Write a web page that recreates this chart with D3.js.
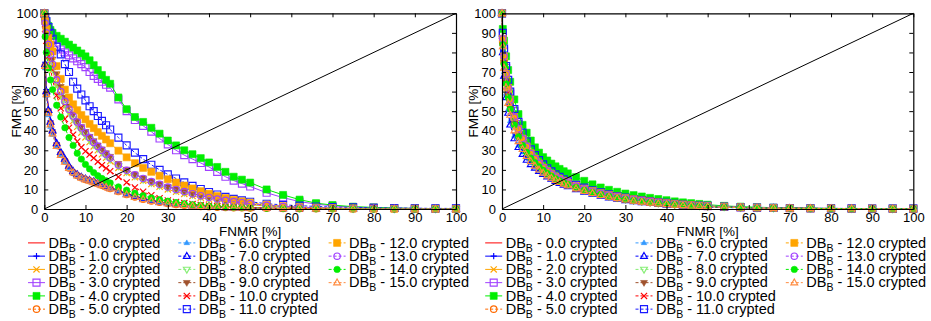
<!DOCTYPE html>
<html>
<head>
<meta charset="utf-8">
<script src="https://cdn.jsdelivr.net/npm/d3@7"></script>
<style>
  body { margin: 0; background: #fff; }
  svg { display: block; font-family: "Liberation Sans", Arial, Helvetica, sans-serif; }
</style>
</head>
<body>
<svg id="chart" width="931" height="321"></svg>
<script>
// FNMR sample points (%) shared by every curve
const fnmrGrid = [0, 0.2, 0.5, 1, 1.5, 2, 3, 4,
  5, 6, 7, 8, 9, 10, 11, 12,
  13, 14, 15, 16, 18, 20, 22, 24,
  26, 28, 30, 32, 34, 36, 38, 40,
  42, 44, 46, 48, 50, 54, 58, 62,
  66, 70, 75, 80, 85, 90, 95, 100];

const cryptLevels = ['0.0', '1.0', '2.0', '3.0', '4.0', '5.0', '6.0', '7.0',
  '8.0', '9.0', '10.0', '11.0', '12.0', '13.0', '14.0', '15.0'];

const tickValues = [0, 10, 20, 30, 40, 50, 60, 70, 80, 90, 100];

// left panel, FMR (%) at each FNMR grid point
const left00 = [100, 76, 62, 52, 46, 41, 34.5, 29.5, 26, 22.5, 20, 18.2, 16.9, 15.9, 15.1, 14.4, 13.5, 12.7, 11.9, 11.1, 9.5, 8, 6.6, 5.5, 4.5, 3.7, 3, 2.5, 2.1, 1.8, 1.5, 1.3, 1.1, 0.9, 0.8, 0.7, 0.6, 0.4, 0.3, 0.2, 0.15, 0.1, 0.05, 0, 0, 0, 0, 0];
const left01 = [100, 75, 61, 51, 45, 40.5, 34, 29, 25.5, 22, 19.5, 17.8, 16.5, 15.6, 14.9, 14.2, 13.4, 12.6, 11.8, 11, 9.3, 7.8, 6.5, 5.4, 4.4, 3.6, 3, 2.5, 2.1, 1.7, 1.4, 1.2, 1, 0.8, 0.7, 0.6, 0.5, 0.35, 0.25, 0.2, 0.15, 0.1, 0.05, 0, 0, 0, 0, 0];
const left02 = [100, 94, 89, 82, 76, 71, 63, 57, 52.5, 48.5, 45, 42, 39, 36.6, 34.2, 32, 30, 28, 26.2, 24.4, 21, 18.4, 16.2, 14.4, 12.8, 11.4, 10, 8.8, 7.7, 6.7, 5.8, 5, 4.3, 3.7, 3.1, 2.6, 2.2, 1.5, 1, 0.7, 0.5, 0.3, 0.2, 0.1, 0.1, 0.05, 0, 0];
const left03 = [100, 97, 94, 90, 87, 85, 83, 81.5, 80, 78.5, 77, 75.5, 74, 72.5, 70, 68, 66.5, 65, 63.5, 62, 56, 50, 45.5, 42.5, 39.5, 36, 33, 30, 27.5, 25.5, 23.5, 21.5, 19, 16.5, 14.5, 13, 11.5, 8.3, 5.8, 3.8, 2.5, 1.6, 1, 0.7, 0.5, 0.3, 0.2, 0.2];
const left04 = [100, 98, 96, 93.5, 91.5, 90, 88.5, 87, 85.5, 84, 82.5, 81, 79.5, 78, 76, 73.5, 71, 68.5, 66, 64, 57, 51, 47, 44.5, 41.5, 38.5, 35, 32.5, 30, 28, 26, 23.8, 21.5, 19, 16.5, 15, 13.5, 10, 7.2, 4.8, 3, 2, 1.2, 0.8, 0.5, 0.3, 0.2, 0.2];
const left05 = [100, 73, 59, 49.5, 43.5, 39, 32.5, 28, 24.5, 21, 18.7, 17.1, 16, 15.1, 14.4, 13.7, 12.9, 12.1, 11.3, 10.5, 8.9, 7.4, 6.1, 5, 4.1, 3.4, 2.8, 2.3, 1.9, 1.6, 1.3, 1.1, 0.9, 0.8, 0.7, 0.6, 0.5, 0.35, 0.25, 0.2, 0.15, 0.1, 0.05, 0, 0, 0, 0, 0];
const left06 = [100, 72, 58, 48, 42, 38, 32, 27.5, 24, 20.5, 18.3, 16.8, 15.7, 14.9, 14.2, 13.5, 12.7, 11.9, 11.1, 10.3, 8.7, 7.2, 5.9, 4.8, 3.9, 3.2, 2.6, 2.2, 1.8, 1.5, 1.3, 1.1, 0.9, 0.8, 0.7, 0.6, 0.5, 0.35, 0.25, 0.2, 0.15, 0.1, 0.05, 0, 0, 0, 0, 0];
const left07 = [100, 74, 60, 50.5, 44.5, 40, 33.5, 29, 25.5, 22, 19.3, 17.6, 16.3, 15.4, 14.7, 14, 13.2, 12.4, 11.6, 10.8, 9.2, 7.7, 6.4, 5.3, 4.3, 3.5, 2.9, 2.4, 2, 1.7, 1.4, 1.2, 1, 0.8, 0.7, 0.6, 0.5, 0.35, 0.25, 0.2, 0.15, 0.1, 0.05, 0, 0, 0, 0, 0];
const left08 = [100, 94, 88, 82, 76.5, 71.5, 64, 58, 53.5, 49.5, 46, 43, 40, 37.6, 35.2, 33, 31, 29, 27.2, 25.4, 22, 19.2, 17, 15.1, 13.5, 12.1, 10.8, 9.6, 8.5, 7.5, 6.5, 5.6, 4.8, 4.1, 3.5, 3, 2.5, 1.7, 1.2, 0.8, 0.6, 0.4, 0.25, 0.15, 0.1, 0.05, 0, 0];
const left09 = [100, 95, 91, 86, 81, 76.5, 69, 62.5, 57, 52.5, 48.5, 45, 42, 39.5, 37, 34.8, 32.6, 30.6, 28.6, 26.8, 23.2, 20.2, 17.8, 15.8, 14.2, 12.8, 11.4, 10.2, 9, 7.9, 6.9, 6, 5.2, 4.5, 3.8, 3.2, 2.7, 1.9, 1.3, 0.9, 0.6, 0.4, 0.3, 0.2, 0.1, 0.05, 0, 0];
const left10 = [100, 92, 86, 78, 72, 66, 58, 51.5, 46, 41.5, 38, 34.5, 31.5, 29.5, 27.8, 26, 24.2, 22.4, 20.8, 19.3, 16.4, 13.6, 11, 8.8, 7, 5.5, 4.4, 3.6, 3, 2.5, 2.1, 1.7, 1.4, 1.2, 1, 0.8, 0.7, 0.5, 0.35, 0.25, 0.15, 0.1, 0.05, 0, 0, 0, 0, 0];
const left11 = [100, 98, 96, 93, 90, 87, 83, 79, 74, 70, 65, 61.5, 58.5, 55.5, 52.5, 50, 47.5, 45, 42.8, 40.6, 36.5, 32.5, 28.8, 25.5, 22.6, 20, 17.7, 15.6, 13.6, 11.8, 10.2, 8.7, 7.4, 6.2, 5.2, 4.4, 3.7, 2.7, 2.1, 1.7, 1.3, 1, 0.8, 0.6, 0.5, 0.4, 0.3, 0.3];
const left12 = [100, 96, 92, 87.5, 84, 80.5, 73, 66.5, 61, 57, 53.5, 50.5, 48, 45.8, 43.5, 41.3, 39.3, 37.4, 35.5, 33.6, 29.8, 26.4, 23.4, 21, 19, 17, 15.2, 13.5, 12, 10.5, 9.1, 7.8, 6.6, 5.6, 4.7, 3.9, 3.2, 2.2, 1.5, 1, 0.7, 0.5, 0.3, 0.2, 0.1, 0.1, 0.05, 0];
const left13 = [100, 95, 90, 84, 79, 74, 66, 60, 55, 51, 47.5, 44.5, 41.5, 39, 36.5, 34, 32, 30, 28, 26, 22.5, 19.8, 17.5, 15.6, 14, 12.6, 11.2, 10, 8.9, 7.8, 6.8, 5.9, 5.1, 4.4, 3.8, 3.2, 2.7, 1.9, 1.3, 0.9, 0.6, 0.4, 0.3, 0.2, 0.1, 0.1, 0.05, 0];
const left14 = [100, 88, 80, 72, 66, 61, 53, 47, 41.5, 36.5, 32.5, 28.5, 25.5, 22.8, 20.5, 18.6, 17, 15.6, 14.4, 13.3, 11.3, 9.6, 8.1, 6.8, 5.7, 4.8, 4, 3.3, 2.7, 2.2, 1.8, 1.5, 1.2, 1, 0.8, 0.7, 0.6, 0.4, 0.3, 0.2, 0.15, 0.1, 0.05, 0, 0, 0, 0, 0];
const left15 = [100, 73, 58.5, 49, 43, 38.5, 32, 27.5, 24, 20.8, 18.6, 17, 15.9, 15, 14.3, 13.6, 12.8, 12, 11.2, 10.4, 8.8, 7.3, 6, 4.9, 4, 3.3, 2.7, 2.2, 1.8, 1.5, 1.3, 1.1, 0.9, 0.8, 0.7, 0.6, 0.5, 0.35, 0.25, 0.2, 0.15, 0.1, 0.05, 0, 0, 0, 0, 0];

// right panel, FMR (%) at each FNMR grid point
const right00 = [100, 85, 76, 67, 60, 54, 45, 39, 34.3, 30.4, 27, 24.6, 22.2, 20.2, 18.6, 17.1, 15.8, 14.6, 13.6, 12.7, 11.1, 9.7, 8.5, 7.5, 6.6, 5.8, 5.1, 4.5, 4, 3.5, 3.1, 2.7, 2.4, 2.1, 1.8, 1.6, 1.4, 1.1, 0.8, 0.6, 0.5, 0.4, 0.3, 0.2, 0.2, 0.1, 0.1, 0.1];
const right01 = [100, 88, 79, 70, 63, 57, 48, 41.5, 36.5, 32.3, 28.7, 26, 23.5, 21.4, 19.6, 18, 16.6, 15.4, 14.3, 13.4, 11.7, 10.2, 9, 7.9, 7, 6.2, 5.5, 4.8, 4.2, 3.7, 3.3, 2.9, 2.5, 2.2, 1.9, 1.6, 1.4, 1.1, 0.8, 0.6, 0.5, 0.4, 0.3, 0.2, 0.2, 0.1, 0.1, 0.1];
const right02 = [100, 86, 77, 68, 61, 55.5, 46.5, 40.5, 35.5, 31.5, 28, 25.4, 23, 21, 19.2, 17.7, 16.4, 15.2, 14.1, 13.2, 11.6, 10.1, 8.9, 7.8, 6.9, 6.1, 5.4, 4.7, 4.2, 3.7, 3.2, 2.8, 2.5, 2.2, 1.9, 1.6, 1.4, 1.1, 0.8, 0.6, 0.5, 0.4, 0.3, 0.2, 0.2, 0.1, 0.1, 0.1];
const right03 = [100, 89, 81, 72, 65, 59, 50, 43.5, 38, 33.5, 29.8, 27, 24.5, 22.3, 20.4, 18.8, 17.3, 16, 14.9, 13.9, 12.2, 10.7, 9.4, 8.3, 7.3, 6.4, 5.6, 4.9, 4.3, 3.8, 3.4, 3, 2.6, 2.2, 1.9, 1.7, 1.5, 1.1, 0.8, 0.6, 0.5, 0.4, 0.3, 0.3, 0.2, 0.2, 0.2, 0.2];
const right04 = [100, 92, 86, 78, 71, 65, 56, 48.5, 43, 39, 35, 31.5, 28.8, 26.5, 24.8, 23.2, 21.8, 20.5, 19.3, 18.2, 16.3, 14.4, 12.6, 11, 9.8, 8.8, 7.9, 7.1, 6.4, 5.7, 5.1, 4.5, 3.9, 3.4, 3, 2.6, 2.2, 1.6, 1.2, 0.9, 0.7, 0.5, 0.4, 0.3, 0.2, 0.2, 0.2, 0.2];
const right05 = [100, 85, 75, 66, 59, 53, 44.5, 38.5, 34, 30.2, 27, 24.4, 22, 20, 18.4, 17, 15.7, 14.6, 13.6, 12.7, 11.1, 9.7, 8.5, 7.5, 6.6, 5.8, 5.1, 4.5, 4, 3.5, 3.1, 2.7, 2.3, 2, 1.8, 1.5, 1.3, 1, 0.8, 0.6, 0.5, 0.4, 0.3, 0.2, 0.2, 0.1, 0.1, 0.1];
const right06 = [100, 81, 70, 59, 51, 45, 37.5, 32.5, 29, 26, 23.5, 21.5, 19.7, 18.2, 16.8, 15.6, 14.5, 13.5, 12.6, 11.8, 10.3, 9, 7.9, 6.9, 6, 5.3, 4.6, 4, 3.5, 3, 2.6, 2.3, 2, 1.7, 1.5, 1.3, 1.1, 0.8, 0.6, 0.5, 0.4, 0.3, 0.2, 0.2, 0.1, 0.1, 0.1, 0.1];
const right07 = [100, 80, 68, 57, 49, 43, 36, 31.5, 28, 25, 22.8, 21, 19.3, 17.8, 16.5, 15.3, 14.2, 13.2, 12.3, 11.5, 10, 8.7, 7.6, 6.6, 5.8, 5.1, 4.4, 3.8, 3.3, 2.9, 2.5, 2.2, 1.9, 1.6, 1.4, 1.2, 1, 0.8, 0.6, 0.5, 0.4, 0.3, 0.2, 0.2, 0.1, 0.1, 0.1, 0.1];
const right08 = [100, 86, 76, 67, 60, 54, 45.5, 39.5, 34.8, 30.8, 27.3, 24.8, 22.4, 20.4, 18.7, 17.2, 15.9, 14.7, 13.7, 12.8, 11.2, 9.8, 8.6, 7.6, 6.7, 5.9, 5.2, 4.6, 4, 3.5, 3.1, 2.7, 2.4, 2.1, 1.8, 1.6, 1.4, 1.1, 0.8, 0.6, 0.5, 0.4, 0.3, 0.2, 0.2, 0.1, 0.1, 0.1];
const right09 = [100, 84, 75, 65, 58, 52, 43.5, 37.5, 33, 29.3, 26.2, 23.8, 21.6, 19.7, 18.1, 16.7, 15.4, 14.3, 13.3, 12.4, 10.8, 9.4, 8.2, 7.2, 6.3, 5.5, 4.8, 4.2, 3.7, 3.2, 2.8, 2.5, 2.2, 1.9, 1.6, 1.4, 1.2, 0.9, 0.7, 0.5, 0.4, 0.3, 0.3, 0.2, 0.2, 0.1, 0.1, 0.1];
const right10 = [100, 85, 76, 66.5, 59.5, 53.5, 45, 39, 34.2, 30.4, 27, 24.5, 22.1, 20.1, 18.5, 17, 15.7, 14.5, 13.5, 12.6, 11, 9.6, 8.4, 7.4, 6.5, 5.7, 5, 4.4, 3.9, 3.4, 3, 2.6, 2.3, 2, 1.7, 1.5, 1.3, 1, 0.8, 0.6, 0.5, 0.4, 0.3, 0.2, 0.2, 0.1, 0.1, 0.1];
const right11 = [100, 90, 82, 73, 66, 60, 51, 44.5, 39, 34.5, 30.5, 27.5, 25, 22.8, 20.8, 19.2, 17.7, 16.4, 15.2, 14.2, 12.4, 10.9, 9.6, 8.5, 7.5, 6.6, 5.8, 5.1, 4.5, 4, 3.5, 3.1, 2.7, 2.3, 2, 1.8, 1.6, 1.2, 0.9, 0.7, 0.6, 0.5, 0.4, 0.3, 0.3, 0.2, 0.2, 0.2];
const right12 = [100, 87, 78, 69, 62, 56, 47, 41, 36, 32, 28.5, 25.8, 23.3, 21.2, 19.4, 17.9, 16.5, 15.3, 14.3, 13.4, 11.8, 10.4, 9.2, 8.1, 7.2, 6.4, 5.6, 5, 4.4, 3.9, 3.4, 3, 2.6, 2.3, 2, 1.7, 1.5, 1.2, 0.9, 0.7, 0.5, 0.4, 0.3, 0.3, 0.2, 0.2, 0.1, 0.1];
const right13 = [100, 87, 78, 69, 62, 56, 47, 41, 36, 32, 28.4, 25.7, 23.2, 21.1, 19.3, 17.8, 16.4, 15.2, 14.2, 13.3, 11.7, 10.3, 9.1, 8, 7.1, 6.3, 5.5, 4.9, 4.3, 3.8, 3.3, 2.9, 2.5, 2.2, 1.9, 1.7, 1.5, 1.1, 0.9, 0.7, 0.5, 0.4, 0.3, 0.3, 0.2, 0.2, 0.1, 0.1];
const right14 = [100, 84, 74, 64, 57, 51, 43, 37, 32.5, 29, 26, 23.7, 21.6, 19.8, 18.2, 16.8, 15.5, 14.4, 13.4, 12.5, 11, 9.6, 8.4, 7.4, 6.5, 5.7, 5, 4.4, 3.9, 3.4, 3, 2.6, 2.3, 2, 1.7, 1.5, 1.3, 1, 0.8, 0.6, 0.5, 0.4, 0.3, 0.2, 0.2, 0.1, 0.1, 0.1];
const right15 = [100, 83, 72, 62, 54, 48, 40, 34.5, 30.5, 27, 24.3, 22, 20, 18.4, 17, 15.8, 14.7, 13.7, 12.8, 11.9, 10.4, 9.1, 8, 7, 6.1, 5.4, 4.7, 4.1, 3.6, 3.1, 2.7, 2.4, 2.1, 1.8, 1.6, 1.4, 1.2, 0.9, 0.7, 0.5, 0.4, 0.3, 0.3, 0.2, 0.2, 0.1, 0.1, 0.1];

const leftSeries = [left00, left01, left02, left03, left04, left05, left06, left07,
  left08, left09, left10, left11, left12, left13, left14, left15];
const rightSeries = [right00, right01, right02, right03, right04, right05, right06, right07,
  right08, right09, right10, right11, right12, right13, right14, right15];

// gnuplot-like styles
const seriesColors = ['#ff0000', '#0000ff', '#ffa500', '#a040ff', '#00ee00', '#ff6a00', '#3399ff', '#0000ff',
  '#88ee77', '#a0522d', '#ff0000', '#1a1aff', '#ffa500', '#a040ff', '#00ee00', '#ff8c40'];
const seriesMarkers = ['none', 'plus', 'times', 'squareOpen', 'squareFill', 'circleOpen', 'triUpFill', 'triUpOpen',
  'triDownOpen', 'triDownFill', 'times', 'squareOpen', 'squareFill', 'circleOpen', 'circleFill', 'triUpOpen'];

const svg = d3.select('#chart');

function markerPath(type, r) {
  if (type.startsWith('plus')) return `M${-r},0H${r}M0,${-r}V${r}`;
  if (type.startsWith('times')) return `M${-r},${-r}L${r},${r}M${-r},${r}L${r},${-r}`;
  if (type.startsWith('square')) return `M${-r},${-r}H${r}V${r}H${-r}Z`;
  if (type.startsWith('circle')) return `M${r},0A${r},${r} 0 1,1 ${-r},0A${r},${r} 0 1,1 ${r},0Z`;
  if (type.startsWith('triUp')) return `M0,${-r * 1.2}L${r * 1.1},${r * 0.7}L${-r * 1.1},${r * 0.7}Z`;
  if (type.startsWith('triDown')) return `M0,${r * 1.2}L${r * 1.1},${-r * 0.7}L${-r * 1.1},${-r * 0.7}Z`;
  return '';
}

function markerSize(type) {
  if (type.startsWith('square')) return 3.5;
  if (type === 'triUpFill') return 2.5;
  if (type.startsWith('circle')) return 3.2;
  return 3.1;
}

function styleMarker(sel, type, color) {
  const filled = type.endsWith('Fill');
  sel.attr('d', markerPath(type, markerSize(type)))
    .attr('fill', filled ? color : 'none')
    .attr('stroke', color)
    .attr('stroke-width', filled ? 0.6 : 1.15);
}

function drawPanel(left, width, data, yLabelX) {
  const top = 13.3, height = 195.7;
  const x = d3.scaleLinear().domain([0, 100]).range([0, width]);
  const y = d3.scaleLinear().domain([0, 100]).range([height, 0]);

  const g = svg.append('g').attr('transform', `translate(${left},${top})`);

  const line = d3.line().x(d => x(d[0])).y(d => y(d[1]));

  data.forEach((vals, i) => {
    const pts = fnmrGrid.map((f, k) => [f, vals[k]]);
    const color = seriesColors[i];
    const sg = g.append('g');
    sg.append('path')
      .attr('d', line(pts))
      .attr('fill', 'none')
      .attr('stroke', color)
      .attr('stroke-width', 1)
      .attr('stroke-dasharray', i >= 5 ? '3,2' : null);
    if (seriesMarkers[i] !== 'none') {
      sg.selectAll('path.pt')
        .data(pts)
        .enter().append('path')
        .attr('class', 'pt')
        .attr('transform', d => `translate(${x(d[0])},${y(d[1])})`)
        .call(styleMarker, seriesMarkers[i], color);
    }
  });

  // diagonal (EER line)
  g.append('path')
    .attr('d', line([[0, 0], [100, 100]]))
    .attr('stroke', '#000')
    .attr('stroke-width', 1)
    .attr('fill', 'none');

  const axisStyle = sel => {
    sel.selectAll('.domain').attr('stroke', '#000').attr('stroke-width', 1.2);
    sel.selectAll('.tick line').attr('stroke', '#000');
    sel.selectAll('.tick text').attr('fill', '#000').style('font-size', '13px');
    sel.attr('font-family', null);
  };

  g.append('g')
    .attr('transform', `translate(0,${height})`)
    .call(d3.axisBottom(x).tickValues(tickValues).tickSizeInner(-4).tickSizeOuter(0).tickPadding(3.5))
    .call(axisStyle);
  g.append('g')
    .call(d3.axisLeft(y).tickValues(tickValues).tickSizeInner(-4).tickSizeOuter(0).tickPadding(6))
    .call(axisStyle);
  g.append('g')
    .call(d3.axisTop(x).tickValues(tickValues).tickSizeInner(-4).tickSizeOuter(0).tickFormat(''))
    .call(axisStyle);
  g.append('g')
    .attr('transform', `translate(${width},0)`)
    .call(d3.axisRight(y).tickValues(tickValues).tickSizeInner(-4).tickSizeOuter(0).tickFormat(''))
    .call(axisStyle);

  g.append('text')
    .attr('x', width / 2)
    .attr('y', 222.3)
    .attr('text-anchor', 'middle')
    .style('font-size', '13.5px')
    .text('FNMR [%]');

  svg.append('text')
    .attr('transform', `translate(${yLabelX},${top + height / 2}) rotate(-90)`)
    .attr('text-anchor', 'middle')
    .style('font-size', '13.5px')
    .text('FMR [%]');
}

function drawLegend(x0) {
  const colW = 150.3, rowH = 13.25, base = 247.7;
  cryptLevels.forEach((lvl, i) => {
    const col = Math.floor(i / 6), row = i % 6;
    const lx = x0 + col * colW, by = base + row * rowH;
    const ly = by - 4.8;
    const color = seriesColors[i];
    const item = svg.append('g');
    item.append('line')
      .attr('x1', lx).attr('x2', lx + 17)
      .attr('y1', ly).attr('y2', ly)
      .attr('stroke', color)
      .attr('stroke-width', 1)
      .attr('stroke-dasharray', i >= 5 ? '3,2' : null);
    if (seriesMarkers[i] !== 'none') {
      item.append('path')
        .attr('transform', `translate(${lx + 8.5},${ly})`)
        .call(styleMarker, seriesMarkers[i], color);
    }
    const t = item.append('text')
      .attr('x', lx + 20.5)
      .attr('y', by)
      .style('font-size', '14.5px');
    t.append('tspan').text('DB');
    t.append('tspan').attr('dy', 4).style('font-size', '10.5px').text('B');
    t.append('tspan').attr('dy', -4).text(` - ${lvl} crypted`);
  });
}

drawPanel(44.3, 411.7, leftSeries, 20.5);
drawPanel(502, 411.3, rightSeries, 478.2);
drawLegend(28);
drawLegend(485.2);
</script>
</body>
</html>
